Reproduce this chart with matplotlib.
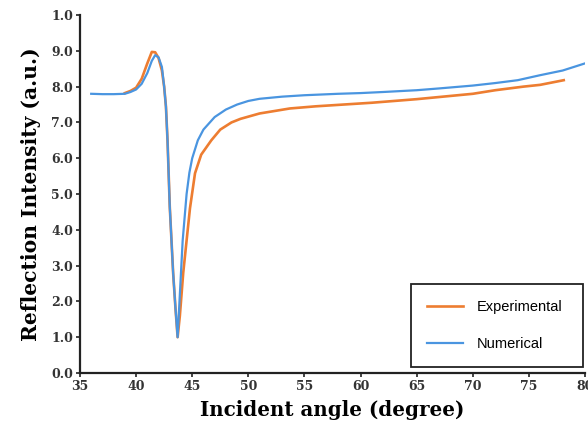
import numpy as np
import matplotlib
matplotlib.use('Agg')
import matplotlib.pyplot as plt

# Values
num_angle = [36, 37, 38, 39, 39.5, 40, 40.5, 41, 41.4, 41.7, 42.0, 42.3, 42.5,
             42.66, 42.8, 43.0, 43.3, 43.5, 43.7, 43.9, 44.15, 44.5, 44.75,
             45.0, 45.5, 46.0, 47, 48, 49, 50, 51, 53, 55, 58, 60, 62, 65, 67,
             70, 72, 74, 76, 78, 80]
num_refl = [7.8, 7.79, 7.79, 7.8, 7.85, 7.92, 8.08, 8.38, 8.72, 8.88, 8.82,
            8.55, 8.0, 7.44, 6.5, 4.65, 2.8, 1.85, 1.0, 2.2, 3.7, 5.0, 5.6,
            6.0, 6.5, 6.8, 7.15, 7.36, 7.5, 7.6, 7.66, 7.72, 7.76, 7.8, 7.82,
            7.85, 7.9, 7.95, 8.03, 8.1, 8.18, 8.32, 8.45, 8.65]

exp_angle = [39, 39.5, 40, 40.5, 41, 41.4, 41.7, 42.0, 42.3, 42.5, 42.66,
             42.8, 43.0, 43.3, 43.5, 43.7, 43.9, 44.2, 44.5, 44.8, 45.25,
             45.8, 46.7, 47.5, 48.5, 49.3, 51, 53.7, 56, 61, 65, 70, 72,
             74.5, 76, 78.1]
exp_refl = [7.82, 7.88, 7.97, 8.22, 8.65, 8.97, 8.96, 8.8, 8.45, 8.0, 7.44,
            6.5, 4.65, 2.8, 1.85, 1.0, 1.6, 2.8, 3.7, 4.6, 5.58, 6.1, 6.5,
            6.8, 7.0, 7.1, 7.25, 7.39, 7.45, 7.55, 7.65, 7.8, 7.9, 8.0,
            8.05, 8.18]

x_ticks = [35, 40, 45, 50, 55, 60, 65, 70, 75, 80]
y_ticks = [0, 1, 2, 3, 4, 5, 6, 7, 8, 9, 10]
y_tick_labels = ['0.0', '1.0', '2.0', '3.0', '4.0', '5.0', '6.0', '7.0',
                 '8.0', '9.0', '1.0']

fig = plt.figure(figsize=(5.88, 4.30), dpi=100)
ax = fig.add_axes([0.136, 0.1326, 0.859, 0.8324])

ax.plot(exp_angle, exp_refl, color='#ED7D31', lw=1.9, label='Experimental')
ax.plot(num_angle, num_refl, color='#4A95E0', lw=1.6, label='Numerical')

ax.set_xlim(35, 80)
ax.set_ylim(0, 10)
ax.set_xticks(x_ticks)
ax.set_yticks(y_ticks)
ax.set_yticklabels(y_tick_labels)

for s in ['top', 'right']:
    ax.spines[s].set_visible(False)
for s in ['left', 'bottom']:
    ax.spines[s].set_linewidth(1.6)
    ax.spines[s].set_color('#222222')

ax.tick_params(direction='out', length=3, width=1.2, colors='#222222',
               labelsize=9, pad=2)
for lab in ax.get_xticklabels() + ax.get_yticklabels():
    lab.set_family('DejaVu Serif')
    lab.set_fontweight('bold')
    lab.set_color('#333333')

ax.set_xlabel('Incident angle (degree)', family='DejaVu Serif',
              fontweight='bold', fontsize=14.3, labelpad=5)
ax.set_ylabel('Reflection Intensity (a.u.)', family='DejaVu Serif',
              fontweight='bold', fontsize=14.6, labelpad=7)

leg = ax.legend(loc='lower left', bbox_to_anchor=(0.655, 0.017, 0.341, 0.25),
                mode='expand', borderaxespad=0, fancybox=False, framealpha=1,
                edgecolor='#222222', prop={'family': 'Liberation Sans', 'size': 10.5},
                handlelength=2.5, handletextpad=0.9, labelspacing=1.55,
                borderpad=1.1)
leg.get_frame().set_linewidth(1.3)

plt.savefig('out.png', dpi=100)
plt.close()
